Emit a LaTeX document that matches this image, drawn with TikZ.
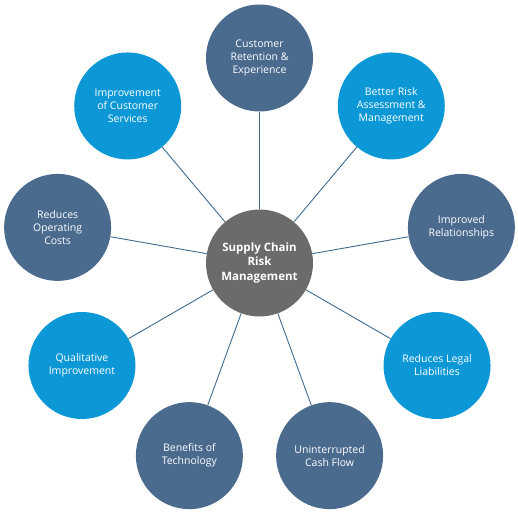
\documentclass[tikz,border=0pt]{standalone}
\usepackage{fontspec}
\setmainfont{Open Sans}
\definecolor{slateblue}{HTML}{4A6A8E}
\definecolor{skyblue}{HTML}{0C98D6}
\definecolor{hubgray}{HTML}{6B6B6B}
\definecolor{spokeblue}{HTML}{3F6A8F}
\begin{document}
\begin{tikzpicture}[x=1pt,y=1pt,
        font=\fontsize{10.5}{13}\selectfont,
        every node/.style={circle,minimum size=107pt,inner sep=0pt,align=center,text=white},
        darkbub/.style={fill=slateblue},
        lightbub/.style={fill=skyblue},
        hub/.style={fill=hubgray,font=\fontsize{11.5}{14.5}\selectfont\bfseries},
        spoke/.style={draw=spokeblue,line width=0.9pt}]

    \useasboundingbox (-259.5,-250) rectangle (258.5,263);

    \node[hub] (scrm) at (0,0) {Supply Chain\\Risk\\Management};

    \node[darkbub]  (retention)  at (90:205)   {Customer\\Retention \&\\Experience};
    \node[lightbub] (assessment) at (50:205)   {Better Risk\\Assessment \&\\Management};
    \node[darkbub]  (relations)  at (10:205)   {Improved\\Relationships};
    \node[lightbub] (legal)      at (-30:205)  {Reduces Legal\\Liabilities};
    \node[darkbub]  (cashflow)   at (-70:205)  {Uninterrupted\\Cash Flow};
    \node[darkbub]  (technology) at (-110:205) {Benefits of\\Technology};
    \node[lightbub] (quality)    at (-150:205) {Qualitative\\Improvement};
    \node[darkbub]  (opcosts)    at (170:205)  {Reduces\\Operating\\Costs};
    \node[lightbub] (services)   at (130:205)  {Improvement\\of Customer\\Services};

    \draw[spoke] (scrm) -- (retention);
    \draw[spoke] (scrm) -- (assessment);
    \draw[spoke] (scrm) -- (relations);
    \draw[spoke] (scrm) -- (legal);
    \draw[spoke] (scrm) -- (cashflow);
    \draw[spoke] (scrm) -- (technology);
    \draw[spoke] (scrm) -- (quality);
    \draw[spoke] (scrm) -- (opcosts);
    \draw[spoke] (scrm) -- (services);
\end{tikzpicture}
\end{document}
